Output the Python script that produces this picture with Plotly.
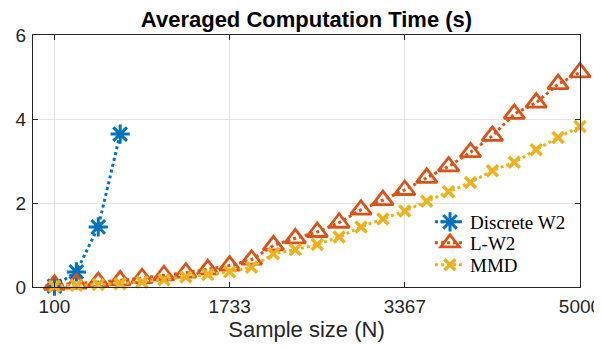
import plotly.graph_objects as go

n_all = [100, 304.17, 508.33, 712.5, 916.67, 1120.83, 1325, 1529.17, 1733.33, 1937.5,
         2141.67, 2345.83, 2550, 2754.17, 2958.33, 3162.5, 3366.67, 3570.83, 3775,
         3979.17, 4183.33, 4387.5, 4591.67, 4795.83, 5000]
n_discrete = [100, 304.17, 508.33, 712.5]
discrete_w2 = [0.02, 0.36, 1.43, 3.64]
l_w2 = [0.05, 0.08, 0.12, 0.16, 0.21, 0.28, 0.34, 0.42, 0.51, 0.65, 0.99, 1.16, 1.31,
        1.53, 1.84, 2.07, 2.31, 2.60, 2.87, 3.21, 3.60, 4.12, 4.39, 4.83, 5.11]
mmd = [0.02, 0.04, 0.06, 0.08, 0.12, 0.17, 0.24, 0.30, 0.36, 0.47, 0.79, 0.89, 1.01,
       1.19, 1.43, 1.62, 1.81, 2.04, 2.27, 2.49, 2.77, 2.97, 3.27, 3.56, 3.82]
x_ticks = [100, 1733, 3367, 5000]
y_ticks = [0, 2, 4, 6]

BLUE = "#0072BD"
ORANGE = "#D95319"
YELLOW = "#EDB120"

# The page body has an 8px default margin, so the figure is offset by 8px.
OFF = 8
W, H = 602 - OFF, 349 - OFF
L, R, T, B = 33 - OFF, 22, 35 - OFF, 62
PLOT_BOTTOM, PLOT_H, PLOT_LEFT, PLOT_W = 287, 252, 33, 547

fig = go.Figure()
fig.add_trace(go.Scatter(
    x=n_discrete, y=discrete_w2, name="Discrete W2", mode="lines+markers",
    line=dict(color=BLUE, width=3, dash="dot"),
    marker=dict(symbol="asterisk-open", size=16, color=BLUE, line=dict(color=BLUE, width=3)),
    cliponaxis=False, legend="legend",
))
fig.add_trace(go.Scatter(
    x=n_all, y=l_w2, name="L-W2", mode="lines+markers",
    line=dict(color=ORANGE, width=3, dash="dot"),
    marker=dict(symbol="triangle-up-open", size=18, color=ORANGE, line=dict(color=ORANGE, width=2.8)),
    cliponaxis=False, legend="legend2",
))
fig.add_trace(go.Scatter(
    x=n_all, y=mmd, name="MMD", mode="lines+markers",
    line=dict(color=YELLOW, width=3, dash="dot"),
    marker=dict(symbol="x-thin-open", size=11, color=YELLOW, line=dict(color=YELLOW, width=3.5)),
    cliponaxis=False, legend="legend3",
))

axis_common = dict(
    showline=True, linecolor="#262626", linewidth=1, mirror="ticks",
    ticks="inside", ticklen=5, tickcolor="#262626",
    showgrid=True, gridcolor="#e3e3e3", gridwidth=1, zeroline=False,
    automargin=False,
    tickfont=dict(family="Liberation Sans, Arial", size=19, color="#262626"),
)


def legend_at(yc):
    return dict(x=(430 - PLOT_LEFT) / PLOT_W, y=(PLOT_BOTTOM - yc) / PLOT_H,
                xanchor="left", yanchor="middle",
                bgcolor="rgba(255,255,255,0)", borderwidth=0, itemwidth=30,
                font=dict(family="Liberation Serif, Times New Roman", size=19, color="black"))


fig.update_layout(
    width=W, height=H,
    margin=dict(l=L, r=R, t=T, b=B),
    paper_bgcolor="white", plot_bgcolor="white",
    title=dict(text="<b>Averaged Computation Time (s)</b>", x=(L + (W - R)) / 2 / W, xref="container",
               xanchor="center",
               y=1, yref="container", yanchor="top", pad=dict(t=4),
               font=dict(family="Liberation Sans, Arial", size=22, color="black")),
    xaxis=dict(range=[-100, 5000], tickvals=x_ticks, ticktext=[str(t) for t in x_ticks],
               ticklabelstandoff=2,
               title=dict(text="Sample size (N)", standoff=0,
                          font=dict(family="Liberation Sans, Arial", size=22, color="#262626")),
               **axis_common),
    yaxis=dict(range=[0, 6], tickvals=y_ticks, ticklabelstandoff=2, **axis_common),
    legend=legend_at(222),
    legend2=legend_at(243),
    legend3=legend_at(265),
    showlegend=True,
)

fig.write_html("out.html")
